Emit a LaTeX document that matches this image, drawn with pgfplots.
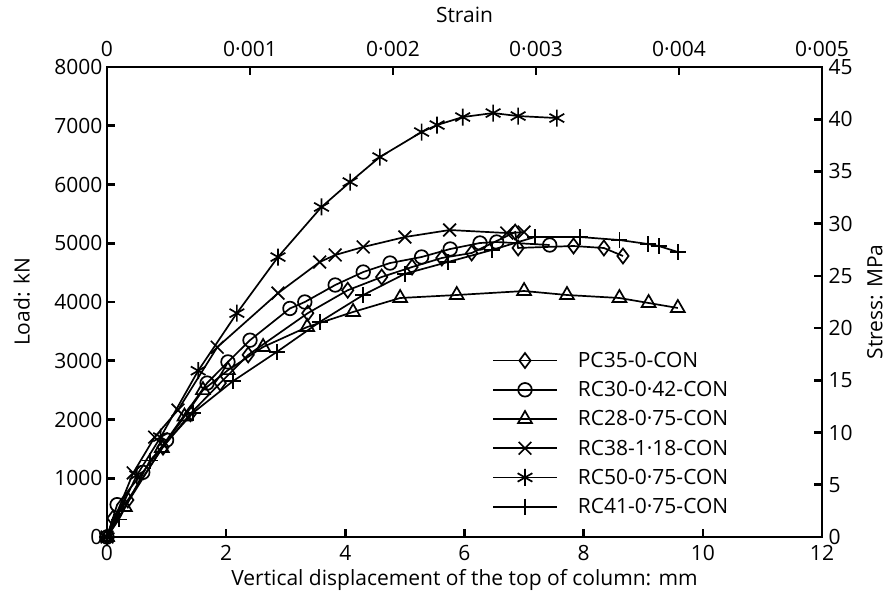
\documentclass[border=0pt]{standalone}
\usepackage{pgfplots}
\pgfplotsset{compat=1.18}
\usepackage{fontspec}
\setmainfont{Open Sans}
\begin{document}
\begin{tikzpicture}[font=\fontsize{21}{25}\selectfont]
\pgfplotsset{
  common/.style={
    scale only axis, width=715pt, height=470pt,
    xmin=0, xmax=12,
    axis line style={line width=2.6pt},
    tick style={line width=2.6pt, black},
    major tick length=8pt,
    tick align=inside,
    /pgf/number format/assume math mode=true,
    /pgf/number format/1000 sep={},
    ticklabel style={font=\fontsize{21}{25}\selectfont},
    label style={font=\fontsize{21}{25}\selectfont},
  },
}
\begin{axis}[common,
  name=ax,
  ymin=0, ymax=8000,
  xtick={0,2,4,6,8,10,12},
  ytick={0,1000,2000,3000,4000,5000,6000,7000,8000},
  xtick pos=bottom, ytick pos=left,
  xticklabel style={yshift=-5pt},
  yticklabel style={xshift=-1pt},
  xlabel={Vertical displacement of the top of column: mm},
  ylabel={Load: kN},
  xlabel style={at={(axis description cs:0.5,-0.0915)}, anchor=center},
  ylabel style={at={(axis description cs:-0.119,0.5)}, anchor=center, rotate=0},
  every axis plot/.append style={line width=1.7pt, black, mark size=7pt,
     mark options={solid, fill=white, line width=1.7pt}},
  legend style={draw=none, fill=none, at={(axis description cs:0.537,0.400)}, anchor=north west,
     font=\fontsize{21}{25}\selectfont, row sep=8.5pt, inner sep=1pt},
  legend cell align=left,
  legend image code/.code={\draw[line width=1.7pt, mark repeat=2,mark phase=2] plot coordinates {(0pt,0pt)(32pt,0pt)(64pt,0pt)}; \path (82pt,0pt);},
]
\addplot[mark=diamond, mark size=7.5pt] coordinates {(0,0)(0.1,320)(0.35,630)(0.94,1530)(1.4,2100)(1.9,2620)(2.37,3100)(3.37,3810)(4.04,4200)(4.61,4425)(5.12,4595)(5.62,4749)(6.12,4834)(6.85,5190)(6.9,4920)(7.83,4953)(8.34,4919)(8.66,4783)};
\addlegendentry{PC35-0-CON}
\addplot[mark=o, mark size=6.8pt] coordinates {(0,0)(0.17,550)(0.6,1100)(1.0,1650)(1.68,2620)(2.03,2980)(2.4,3350)(3.07,3890)(3.32,4000)(3.83,4289)(4.3,4510)(4.75,4663)(5.28,4766)(5.76,4902)(6.26,5004)(6.54,5021)(7.43,4970)};
\addlegendentry{RC30-0·42-CON}
\addplot[mark=triangle, mark size=8pt] coordinates {(0,0)(0.3,510)(0.92,1515)(1.3,2050)(1.61,2500)(2.03,2840)(2.62,3234)(3.36,3574)(4.13,3830)(4.92,4068)(5.87,4119)(7.0,4187)(7.72,4119)(8.6,4068)(9.09,3983)(9.58,3898)};
\addlegendentry{RC28-0·75-CON}
\addplot[mark=x, mark size=9pt] coordinates {(0,0)(0.44,1090)(0.8,1700)(1.19,2160)(1.85,3230)(2.87,4150)(3.57,4680)(3.83,4800)(4.3,4936)(5.0,5106)(5.75,5225)(6.71,5174)(7.0,5190)};
\addlegendentry{RC38-1·18-CON}
\addplot[mark=asterisk, mark size=8.5pt] coordinates {(0,0)(0.5,1050)(0.9,1700)(1.53,2830)(2.18,3810)(2.87,4765)(3.6,5617)(4.08,6042)(4.58,6468)(5.28,6893)(5.54,7012)(5.97,7148)(6.48,7216)(6.9,7165)(7.55,7131)};
\addlegendentry{RC50-0·75-CON}
\addplot[mark=+, mark size=8pt] coordinates {(0,0)(0.2,300)(0.72,1300)(1.44,2110)(2.11,2650)(2.85,3150)(3.57,3660)(4.3,4119)(5.0,4480)(5.72,4680)(6.46,4885)(7.18,5106)(7.94,5106)(8.6,5055)(9.08,4987)(9.26,4953)(9.58,4851)};
\addlegendentry{RC41-0·75-CON}
\end{axis}
\begin{axis}[common,
  ymin=0, ymax=45,
  xtick={0,2.4,4.8,7.2,9.6,12},
  xticklabels={0,0·001,0·002,0·003,0·004,0·005},
  ytick={0,5,10,15,20,25,30,35,40,45},
  xtick pos=top, ytick pos=right,
  xticklabel pos=upper, yticklabel pos=right,
  xticklabel style={yshift=7pt},
  yticklabel style={xshift=3pt},
  xlabel={Strain},
  ylabel={Stress: MPa},
  xlabel style={at={(axis description cs:0.5,1.1106)}, anchor=center},
  ylabel style={at={(axis description cs:1.074,0.5)}, anchor=center, rotate=0},
]
\end{axis}
\pgfresetboundingbox
\path[use as bounding box] ([xshift=-107pt,yshift=-62pt]ax.south west) rectangle ([xshift=65pt,yshift=67pt]ax.north east);
\end{tikzpicture}
\end{document}
